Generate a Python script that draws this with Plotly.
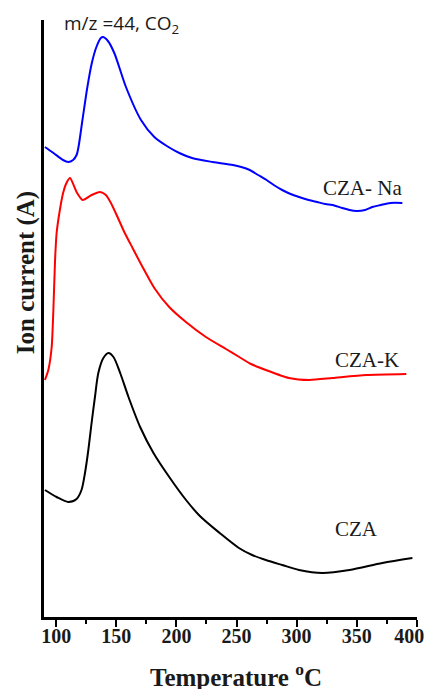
import plotly.graph_objects as go

# Temperature (°C) and ion current (a.u.)
t_na = [90.6, 97.7, 105.6, 110, 114, 116.9, 118.5, 121.8, 125.9, 129.6, 133.4, 137.1, 139, 143, 148.3,
        158, 170.5, 181.6, 192, 202.4, 213, 230.1, 247, 254, 261, 268, 275, 281, 288, 295, 302, 310,
        317, 324, 330, 338, 344, 350, 357, 363, 370, 378, 388]
i_na = [4.70, 4.64, 4.57, 4.55, 4.57, 4.62, 4.70, 4.97, 5.30, 5.54, 5.70, 5.79, 5.80, 5.76, 5.64,
        5.30, 4.97, 4.80, 4.71, 4.64, 4.59, 4.55, 4.52, 4.50, 4.47, 4.42, 4.37, 4.32, 4.27, 4.23, 4.20,
        4.17, 4.15, 4.13, 4.12, 4.09, 4.07, 4.06, 4.07, 4.10, 4.12, 4.14, 4.14]

t_k = [90.6, 93.4, 96.2, 97.6, 99, 100.3, 103, 105.7, 108.5, 111.5, 116.9, 122, 129.4, 136.4, 141.3,
       145.5, 151, 156.6, 163.5, 171.8, 181.6, 194, 207.9, 224.5, 241.2, 252.3, 262, 274.4, 293.5,
       310.7, 330, 357.9, 391.3]
i_k = [2.37, 2.47, 2.70, 3.07, 3.57, 3.84, 4.07, 4.24, 4.34, 4.39, 4.25, 4.17, 4.22, 4.25, 4.22,
       4.14, 4.00, 3.85, 3.69, 3.50, 3.29, 3.10, 2.95, 2.80, 2.68, 2.60, 2.53, 2.47, 2.39,
       2.37, 2.39, 2.42, 2.43]

t_cza = [90.6, 100.3, 110, 116.9, 121, 123.9, 126.7, 129.4, 132.2, 135, 139.2, 143.4, 147.6, 153.2,
         160.1, 169.8, 180.9, 194.6, 208, 219.5, 236, 252, 263, 274.4, 288, 302, 321.5, 344, 371.4,
         396.4]
i_cza = [1.27, 1.20, 1.15, 1.18, 1.27, 1.44, 1.67, 1.94, 2.20, 2.44, 2.59, 2.64, 2.60, 2.44,
         2.20, 1.90, 1.64, 1.39, 1.17, 1.01, 0.84, 0.69, 0.62, 0.57, 0.52, 0.47, 0.44, 0.47, 0.54,
         0.59]

x_ticks = [100, 150, 200, 250, 300, 350, 400]
x_ticktext = ["100", "150", "200", "250", "300", "350", "400\u00a0\u00a0\u00a0"]
labels = ["CZA- Na", "CZA-K", "CZA"]
label_x = [355, 359, 350]
label_y = [4.29, 2.57, 0.88]

serif = "Liberation Serif"
txt_col = "#1a1a1a"

fig = go.Figure()
fig.add_trace(go.Scatter(x=t_na, y=i_na, mode="lines",
                         line=dict(color="#0000ff", width=2, shape="spline", smoothing=0.8)))
fig.add_trace(go.Scatter(x=t_k, y=i_k, mode="lines",
                         line=dict(color="#ff0000", width=2, shape="spline", smoothing=0.6)))
fig.add_trace(go.Scatter(x=t_cza, y=i_cza, mode="lines",
                         line=dict(color="#000000", width=2, shape="spline", smoothing=0.8)))

for txt, lx, ly in zip(labels, label_x, label_y):
    fig.add_annotation(x=lx, y=ly, xref="x", yref="y", text=txt, showarrow=False,
                       font=dict(family=serif, size=21, color=txt_col))

fig.add_annotation(x=0.048, y=0.994, xref="paper", yref="paper", xanchor="left", yanchor="middle",
                   text="m/z =44, CO<sub>2</sub>", showarrow=False,
                   font=dict(family="Open Sans", size=19, color=txt_col))

fig.add_annotation(x=0.515, y=-0.097, xref="paper", yref="paper", xanchor="center", yanchor="middle",
                   text="Temperature <sup>o</sup>C", showarrow=False,
                   font=dict(family=serif, size=25, color=txt_col, weight="bold"))

fig.add_annotation(x=-0.048, y=0.576, xref="paper", yref="paper", xanchor="center", yanchor="middle",
                   text="Ion current (A)", textangle=-90, showarrow=False,
                   font=dict(family=serif, size=25, color=txt_col, weight="bold"))

fig.update_layout(
    width=427, height=689,
    margin=dict(l=44, r=10, t=20, b=72, autoexpand=False),
    paper_bgcolor="white", plot_bgcolor="white",
    showlegend=False,
    xaxis=dict(range=[89.8, 400.2], tickvals=x_ticks, ticktext=x_ticktext, ticks="outside",
               ticklen=7, tickwidth=2, tickcolor="black", showline=True, linecolor="black",
               linewidth=3, showgrid=False, zeroline=False, ticklabeloverflow="allow",
               ticklabelstandoff=-8, automargin=False,
               minor=dict(ticks="outside", ticklen=4, tickwidth=1.5, tickcolor="black", dtick=25,
                          tick0=75, showgrid=False),
               tickfont=dict(family=serif, size=20, color=txt_col, weight="bold")),
    yaxis=dict(range=[0, 5.97], showline=True, linecolor="black", linewidth=3, showgrid=False,
               zeroline=False, showticklabels=False, ticks="", automargin=False),
)

fig.write_html("out.html")
